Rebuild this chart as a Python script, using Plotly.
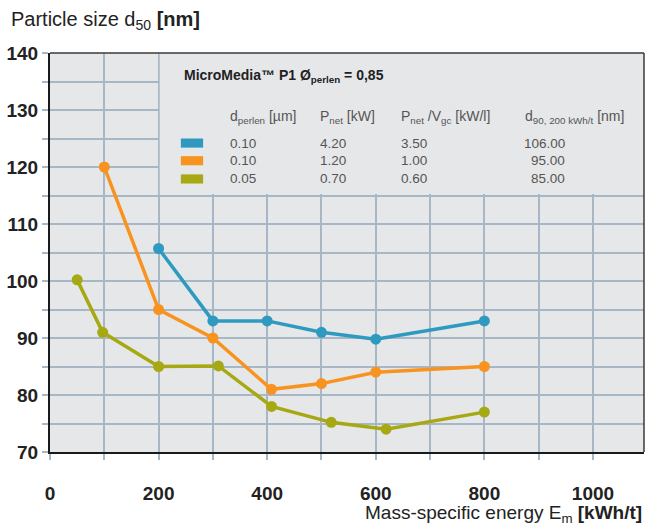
import plotly.graph_objects as go

# ---- data ----
blue_x = [200, 300, 400, 500, 600, 800]
blue_y = [105.7, 93.0, 93.0, 91.0, 89.8, 93.0]
orange_x = [100, 200, 300, 408, 500, 600, 800]
orange_y = [120.0, 95.0, 90.0, 81.0, 82.0, 84.0, 85.0]
green_x = [50, 97, 200, 310, 408, 518, 619, 800]
green_y = [100.2, 91.0, 85.0, 85.1, 78.0, 75.2, 74.0, 77.0]

series_colors = ["#2e9ac0", "#f7931e", "#a6a913"]
d_perlen = ["0.10", "0.10", "0.05"]
p_net = ["4.20", "1.20", "0.70"]
p_net_vgc = ["3.50", "1.00", "0.60"]
d90 = ["106.00", "95.00", "85.00"]

x_tickvals = [0, 200, 400, 600, 800, 1000]
y_tickvals = [70, 80, 90, 100, 110, 120, 130, 140]

FONT = "Liberation Sans, Arial, sans-serif"
GRID = "#a8b7c5"
BG = "#e6e7e9"

fig = go.Figure()
for xs, ys, c in [(blue_x, blue_y, series_colors[0]),
                  (orange_x, orange_y, series_colors[1]),
                  (green_x, green_y, series_colors[2])]:
    fig.add_trace(go.Scatter(x=xs, y=ys, mode="lines+markers",
                             line=dict(color=c, width=3.5),
                             marker=dict(color=c, size=11),
                             showlegend=False, hoverinfo="skip"))

XMAX = 1094
fig.update_layout(
    width=647, height=525,
    margin=dict(l=50, r=3, t=53, b=73),
    paper_bgcolor="white", plot_bgcolor=BG,
    font=dict(family=FONT, color="#222"),
    xaxis=dict(range=[0, XMAX], tickvals=x_tickvals, ticks="outside",
               ticklen=6, tickwidth=2, tickcolor=GRID,
               showgrid=True, gridcolor=GRID, gridwidth=2,
               minor=dict(dtick=100, tick0=0, ticks="outside", ticklen=6,
                          tickwidth=2, tickcolor=GRID, showgrid=True,
                          gridcolor=GRID, gridwidth=2),
               showline=True, linecolor="#1a1a1a", linewidth=2,
               tickfont=dict(size=19, weight="bold", color="#222"),
               ticklabelstandoff=17, zeroline=False, automargin=False),
    yaxis=dict(range=[70, 140], tickvals=y_tickvals, ticks="outside",
               ticklen=6, tickwidth=2, tickcolor=GRID,
               showgrid=True, gridcolor=GRID, gridwidth=2,
               minor=dict(dtick=5, tick0=70, ticks="outside", ticklen=6,
                          tickwidth=2, tickcolor=GRID, showgrid=True,
                          gridcolor=GRID, gridwidth=2),
               showline=True, linecolor="#1a1a1a", linewidth=2,
               tickfont=dict(size=19, weight="bold", color="#222"),
               zeroline=False, automargin=False),
)

shapes = []
# top and right frame
shapes.append(dict(type="line", xref="paper", yref="paper", x0=0, x1=1, y0=1, y1=1,
                   line=dict(color="#3a3a3a", width=1.5), layer="above"))
shapes.append(dict(type="line", xref="paper", yref="paper", x0=1, x1=1, y0=0, y1=1,
                   line=dict(color="#3a3a3a", width=1.5), layer="above"))
# legend box covering the grid
shapes.append(dict(type="rect", xref="x", yref="y", x0=202, x1=XMAX, y0=115.25, y1=140,
                   fillcolor=BG, line=dict(width=0), layer="between"))

annotations = []
annotations.append(dict(xref="x", yref="y", x=243, y=136.0, xanchor="left", yanchor="middle",
                        text="<b>MicroMedia™ P1 Ø<sub>perlen</sub> = 0,85</b>",
                        showarrow=False, font=dict(size=14, color="#222")))
hdr_y = 128.8
hdrs = [(328, "d<sub>perlen</sub> [µm]"), (494, "P<sub>net</sub> [kW]"),
        (643, "P<sub>net</sub> /V<sub>gc</sub> [kW/l]"),
        (871, "d<sub>90, 200 kWh/t</sub> [nm]")]
for x, t in hdrs:
    annotations.append(dict(xref="x", yref="y", x=x, y=hdr_y, xanchor="left", yanchor="middle",
                            text=t, showarrow=False, font=dict(size=14, color="#555")))
row_y = [124.2, 121.1, 117.9]
for i in range(3):
    y = row_y[i]
    shapes.append(dict(type="rect", xref="x", yref="y", x0=241, x1=282,
                       y0=y - 0.8, y1=y + 0.8, fillcolor=series_colors[i],
                       line=dict(width=0), layer="above"))
    for x, v, anc in [(328, d_perlen[i], "left"), (494, p_net[i], "left"),
                      (643, p_net_vgc[i], "left"), (952, d90[i], "right")]:
        annotations.append(dict(xref="x", yref="y", x=x, y=y, xanchor=anc, yanchor="middle",
                                text=v, showarrow=False, font=dict(size=13.5, color="#555")))

# axis titles
annotations.append(dict(xref="paper", yref="paper", x=-41 / 594, y=1 + 33 / 399,
                        xanchor="left", yanchor="middle",
                        text="Particle size d<sub>50</sub> <b>[nm]</b>",
                        showarrow=False, font=dict(size=20, color="#222")))
annotations.append(dict(xref="paper", yref="paper", x=1, y=-62 / 399,
                        xanchor="right", yanchor="middle",
                        text="Mass-specific energy E<sub>m</sub> <b>[kWh/t]</b>",
                        showarrow=False, font=dict(size=19, color="#222")))

fig.update_layout(shapes=shapes, annotations=annotations)
fig.write_html("out.html", config={"displayModeBar": False},
               post_script="document.body.style.margin='0';document.body.style.padding='0';")
